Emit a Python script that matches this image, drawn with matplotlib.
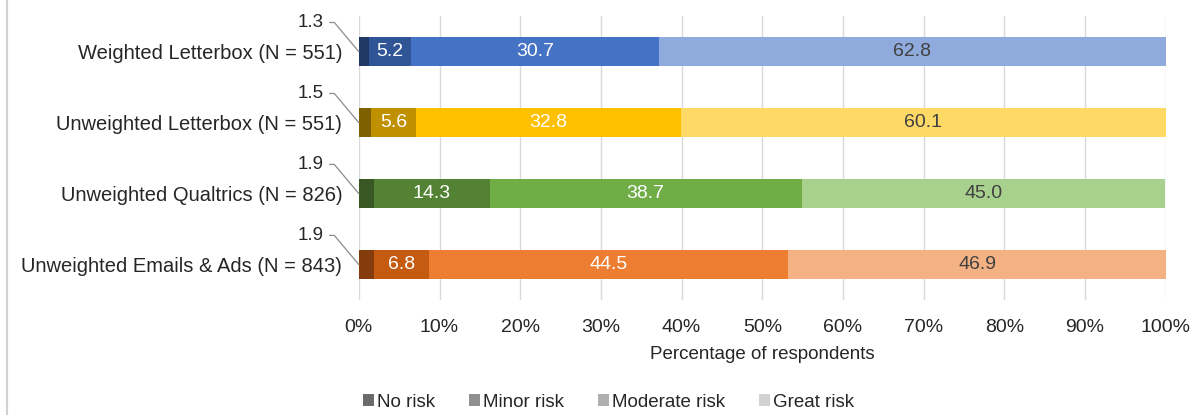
import matplotlib.pyplot as plt
from matplotlib.patches import Patch
from matplotlib.lines import Line2D
import numpy as np

plt.rcParams['font.family'] = ['Liberation Sans', 'DejaVu Sans']

# data (top to bottom)
groups = ['Weighted Letterbox (N = 551)', 'Unweighted Letterbox (N = 551)',
          'Unweighted Qualtrics (N = 826)', 'Unweighted Emails & Ads (N = 843)']
no_risk = [1.3, 1.5, 1.9, 1.9]
minor_risk = [5.2, 5.6, 14.3, 6.8]
moderate_risk = [30.7, 32.8, 38.7, 44.5]
great_risk = [62.8, 60.1, 45.0, 46.9]
levels = ['No risk', 'Minor risk', 'Moderate risk', 'Great risk']

# colour shades per group: no, minor, moderate, great
shades = [
    ['#203864', '#2F5597', '#4472C4', '#8FAADC'],
    ['#7F6000', '#BF9000', '#FFC000', '#FFD966'],
    ['#385723', '#548235', '#70AD47', '#A9D18E'],
    ['#843C0C', '#C55A11', '#ED7D31', '#F4B183'],
]
legend_greys = ['#6b6b6b', '#8f8f8f', '#b0b0b0', '#d2d2d2']

fig = plt.figure(figsize=(12, 4.15), dpi=100)
ax = fig.add_axes([0.299, 0.277, 0.6725, 0.684])

series = [no_risk, minor_risk, moderate_risk, great_risk]
y = np.arange(len(groups))
left = np.zeros(len(groups))
for k, vals in enumerate(series):
    vals = np.array(vals)
    for i in range(len(groups)):
        ax.barh(y[i], vals[i], left=left[i], height=0.41,
                color=shades[i][k], edgecolor='none', zorder=2)
        cx = left[i] + vals[i] / 2
        if k == 0:
            # small "no risk" share sits outside with a leader line
            ax.annotate(f'{vals[i]:.1f}', xy=(left[i], y[i]),
                        xytext=(-25, 21), textcoords='offset points',
                        ha='right', va='center', fontsize=13.5, color='#262626',
                        arrowprops=dict(arrowstyle='-', color='#8c8c8c', lw=0.9,
                                        relpos=(1, 0.5), shrinkA=2, shrinkB=0,
                                        connectionstyle='angle,angleA=0,angleB=130,rad=0'))
        else:
            col = '#404040' if k == 3 else 'white'
            ax.text(cx, y[i], f'{vals[i]:.1f}', ha='center', va='center',
                    fontsize=14, color=col, zorder=3)
    left += vals

ax.set_xlim(0, 100)
ax.set_ylim(len(groups) - 0.5, -0.5)
ax.set_yticks(y)
ax.set_yticklabels(groups, fontsize=14.5, color='#262626')
ax.set_xticks(np.arange(0, 101, 10))
ax.set_xticklabels([f'{v}%' for v in range(0, 101, 10)], fontsize=14, color='#262626')
ax.tick_params(axis='both', length=0)
ax.tick_params(axis='y', pad=12)
ax.tick_params(axis='x', pad=14)
ax.grid(axis='x', color='#d9d9d9', lw=1, zorder=0)
for s in ax.spines.values():
    s.set_visible(False)
ax.set_xlabel('Percentage of respondents', fontsize=13.5, color='#262626', labelpad=7)

handles = [Patch(facecolor=c, edgecolor='none') for c in legend_greys]
fig.legend(handles, levels, loc='center', bbox_to_anchor=(0.507, 0.03), ncol=4,
           frameon=False, fontsize=13.5, handlelength=0.6, handleheight=0.6,
           handletextpad=0.15, columnspacing=1.8, labelcolor='#262626')

fig.add_artist(Line2D([0.006, 0.006], [0, 1], transform=fig.transFigure,
                      color='#d0d0d0', lw=1.5))

fig.savefig('out.png', dpi=100, facecolor='white')
